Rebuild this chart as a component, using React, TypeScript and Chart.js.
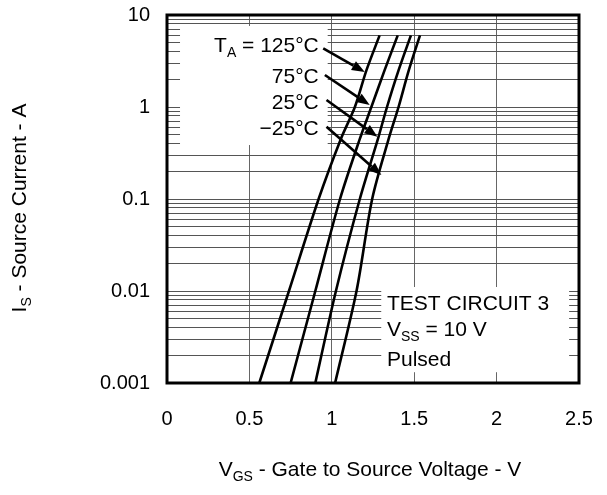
import React, { useEffect, useRef } from 'react';
import { Chart, registerables } from 'chart.js';

Chart.register(...registerables);

// ---- axis ticks ----
const xTickValues = [0, 0.5, 1, 1.5, 2, 2.5];
const xTickLabels = ['0', '0.5', '1', '1.5', '2', '2.5'];
const yDecades = [0.001, 0.01, 0.1, 1, 10];
const yTickLabels = ['0.001', '0.01', '0.1', '1', '10'];
const yMinorSteps = [2, 3, 4, 5, 6, 7, 8, 9];

// ---- series (Is in A vs VGS in V) ----
const currentA = [0.001, 0.01, 0.1, 0.45, 1, 2.5, 6];
const vgs125 = [0.56, 0.74, 0.92, 1.055, 1.14, 1.21, 1.29];
const vgs75 = [0.75, 0.9, 1.05, 1.17, 1.24, 1.32, 1.4];
const vgs25 = [0.9, 1.025, 1.17, 1.28, 1.335, 1.405, 1.48];
const vgsM25 = [1.02, 1.15, 1.245, 1.345, 1.405, 1.467, 1.535];
const seriesNames = ['125°C', '75°C', '25°C', '−25°C'];

// ---- annotation anchors (data coordinates) ----
const labelRightV = 0.921;
const labelCapI = [4.78, 2.19, 1.14, 0.594];
const arrowFrom: [number, number][] = [[0.948, 4.35], [0.958, 2.23], [0.968, 1.19], [0.968, 0.611]];
const arrowTo: [number, number][] = [[1.2, 2.4], [1.23, 1.05], [1.277, 0.475], [1.301, 0.182]];
const testTextV = 1.335;
const testTextI = [0.00753, 0.00396, 0.00187];
const whiteBoxes = [
  { v0: 0.079, v1: 0.975, i0: 0.386, i1: 7.6 },
  { v0: 1.3, v1: 2.44, i0: 0.00131, i1: 0.01105 },
];

const FONT = '"Liberation Sans", Arial, Helvetica, sans-serif';
type Part = { t: string; sub?: boolean };

function drawRich(ctx: CanvasRenderingContext2D, parts: Part[], x: number, capCenterY: number, align: 'left' | 'right' | 'center', size: number) {
  const subSize = Math.round(size * 0.66);
  const widths = parts.map((p) => {
    ctx.font = `${p.sub ? subSize : size}px ${FONT}`;
    return ctx.measureText(p.t).width;
  });
  const total = widths.reduce((a, b) => a + b, 0);
  let cx = align === 'right' ? x - total : align === 'center' ? x - total / 2 : x;
  const baseY = capCenterY + size * 0.358;
  ctx.textAlign = 'left';
  ctx.textBaseline = 'alphabetic';
  parts.forEach((p, i) => {
    ctx.font = `${p.sub ? subSize : size}px ${FONT}`;
    ctx.fillText(p.t, cx, p.sub ? baseY + size * 0.24 : baseY);
    cx += widths[i];
  });
}

function drawArrow(ctx: CanvasRenderingContext2D, x0: number, y0: number, x1: number, y1: number) {
  const ang = Math.atan2(y1 - y0, x1 - x0);
  const hl = 13;
  const hw = 5;
  const bx = x1 - hl * Math.cos(ang);
  const by = y1 - hl * Math.sin(ang);
  ctx.beginPath();
  ctx.moveTo(x0, y0);
  ctx.lineTo(bx, by);
  ctx.lineWidth = 2.6;
  ctx.strokeStyle = '#000';
  ctx.stroke();
  ctx.beginPath();
  ctx.moveTo(x1, y1);
  ctx.lineTo(bx + hw * Math.sin(ang), by - hw * Math.cos(ang));
  ctx.lineTo(bx - hw * Math.sin(ang), by + hw * Math.cos(ang));
  ctx.closePath();
  ctx.fillStyle = '#000';
  ctx.fill();
}

const overlayPlugin = {
  id: 'overlay',
  beforeDatasetsDraw(chart: any) {
    const { ctx, scales } = chart;
    const x = scales.x;
    const y = scales.y;
    ctx.save();
    ctx.fillStyle = '#fff';
    whiteBoxes.forEach((b) => {
      const px0 = x.getPixelForValue(b.v0);
      const px1 = x.getPixelForValue(b.v1);
      const py0 = y.getPixelForValue(b.i1);
      const py1 = y.getPixelForValue(b.i0);
      ctx.fillRect(px0, py0, px1 - px0, py1 - py0);
    });
    ctx.restore();
  },
  afterDatasetsDraw(chart: any) {
    const { ctx, scales, chartArea } = chart;
    const x = scales.x;
    const y = scales.y;
    ctx.save();
    ctx.strokeStyle = '#000';
    ctx.lineWidth = 3;
    ctx.strokeRect(chartArea.left, chartArea.top, chartArea.right - chartArea.left, chartArea.bottom - chartArea.top);

    ctx.fillStyle = '#000';
    const size = 21;
    seriesNames.forEach((name, i) => {
      const parts: Part[] = i === 0 ? [{ t: 'T' }, { t: 'A', sub: true }, { t: ' = ' + name }] : [{ t: name }];
      drawRich(ctx, parts, x.getPixelForValue(labelRightV), y.getPixelForValue(labelCapI[i]), 'right', size);
    });
    arrowFrom.forEach((f, i) => {
      const t = arrowTo[i];
      drawArrow(ctx, x.getPixelForValue(f[0]), y.getPixelForValue(f[1]), x.getPixelForValue(t[0]), y.getPixelForValue(t[1]));
    });
    ctx.fillStyle = '#000';
    const tx = x.getPixelForValue(testTextV);
    drawRich(ctx, [{ t: 'TEST CIRCUIT 3' }], tx, y.getPixelForValue(testTextI[0]), 'left', size);
    drawRich(ctx, [{ t: 'V' }, { t: 'SS', sub: true }, { t: ' = 10 V' }], tx, y.getPixelForValue(testTextI[1]), 'left', size);
    drawRich(ctx, [{ t: 'Pulsed' }], tx, y.getPixelForValue(testTextI[2]), 'left', size);

    const titleSize = 21;
    drawRich(ctx, [{ t: 'V' }, { t: 'GS', sub: true }, { t: ' - Gate to Source Voltage - V' }], (chartArea.left + chartArea.right) / 2 - 3, chartArea.bottom + 85, 'center', titleSize);
    ctx.save();
    ctx.translate(chartArea.left - 149, (chartArea.top + chartArea.bottom) / 2 + 9);
    ctx.rotate(-Math.PI / 2);
    drawRich(ctx, [{ t: 'I' }, { t: 'S', sub: true }, { t: ' - Source Current - A' }], 0, 0, 'center', titleSize);
    ctx.restore();
    ctx.restore();
  },
};

function zeroPad(s: any) {
  s.paddingTop = 0;
  s.paddingBottom = 0;
  s.paddingLeft = 0;
  s.paddingRight = 0;
}

export default function App() {
  const ref = useRef<HTMLCanvasElement | null>(null);
  useEffect(() => {
    document.body.style.margin = '0';
    const canvas = ref.current;
    if (!canvas) return;
    const allY: number[] = [];
    yDecades.forEach((d, i) => {
      allY.push(d);
      if (i < yDecades.length - 1) yMinorSteps.forEach((m) => allY.push(d * m));
    });
    const series = [vgs125, vgs75, vgs25, vgsM25];
    const chart = new Chart(canvas, {
      type: 'line',
      data: {
        datasets: series.map((vs, i) => ({
          label: seriesNames[i],
          data: vs.map((v, k) => ({ x: v, y: currentA[k] })),
          borderColor: '#000',
          borderWidth: 2.6,
          pointRadius: 0,
          fill: false,
          tension: 0.3,
        })),
      },
      options: {
        responsive: false,
        animation: false,
        devicePixelRatio: 1,
        layout: { padding: { top: 15, right: 28, left: 0, bottom: 0 } },
        plugins: { legend: { display: false }, tooltip: { enabled: false } },
        scales: {
          x: {
            type: 'linear',
            min: 0,
            max: 2.5,
            afterFit: (s: any) => { s.height = 112; zeroPad(s); },
            afterBuildTicks: (s: any) => { s.ticks = xTickValues.map((v) => ({ value: v })); },
            grid: { color: '#666', lineWidth: 1, drawTicks: false },
            border: { display: false },
            ticks: {
              autoSkip: false,
              maxRotation: 0,
              padding: 24,
              color: '#000',
              font: { family: FONT, size: 20 },
              callback: (v: any) => {
                const i = xTickValues.findIndex((t) => Math.abs(t - Number(v)) < 1e-9);
                return i >= 0 ? xTickLabels[i] : '';
              },
            },
          },
          y: {
            type: 'logarithmic',
            min: 0.001,
            max: 10,
            afterFit: (s: any) => { s.width = 167; zeroPad(s); },
            afterBuildTicks: (s: any) => { s.ticks = allY.map((v) => ({ value: v })); },
            grid: { color: '#555', lineWidth: 1, drawTicks: false },
            border: { display: false },
            ticks: {
              autoSkip: false,
              padding: 17,
              color: '#000',
              font: { family: FONT, size: 20 },
              callback: (v: any) => {
                const i = yDecades.findIndex((d) => Math.abs(d - Number(v)) / d < 1e-6);
                return i >= 0 ? yTickLabels[i] : '';
              },
            },
          },
        },
      },
      plugins: [overlayPlugin],
    });
    return () => chart.destroy();
  }, []);
  return <canvas ref={ref} width={607} height={495} style={{ display: 'block', width: 607, height: 495 }} />;
}
